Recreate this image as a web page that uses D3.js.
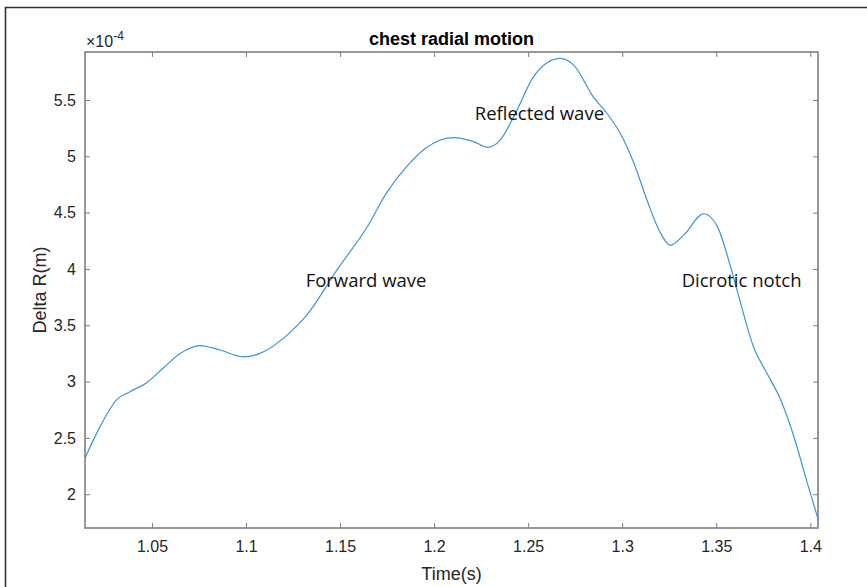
<!DOCTYPE html>
<html>
<head>
<meta charset="utf-8">
<script src="https://cdn.jsdelivr.net/npm/d3@7/dist/d3.min.js"></script>
<style>
  html, body { margin: 0; padding: 0; background: #fff; }
  svg { display: block; }
</style>
</head>
<body>
<svg id="chart" width="867" height="587"></svg>
<script>
// Chest radial motion over one heartbeat (Delta R in units of 1e-4 m)
const time = [1.0144, 1.0224, 1.0313, 1.0383, 1.0472, 1.056, 1.065, 1.0756, 1.0862, 1.0986,
  1.1075, 1.1217, 1.1323, 1.1483, 1.1643, 1.1749, 1.1855, 1.1962, 1.2104, 1.221,
  1.2287, 1.2352, 1.2423, 1.253, 1.26, 1.2671, 1.2742, 1.2849, 1.292, 1.2991,
  1.3062, 1.3132, 1.3203, 1.3256, 1.3327, 1.3434, 1.3505, 1.3576, 1.3611, 1.37,
  1.3771, 1.3842, 1.3913, 1.3984, 1.4043];
const deltaR = [2.32, 2.60, 2.84, 2.91, 2.99, 3.12, 3.25, 3.32, 3.28, 3.22,
  3.25, 3.41, 3.59, 3.99, 4.37, 4.68, 4.91, 5.08, 5.165, 5.13,
  5.08, 5.145, 5.35, 5.71, 5.83, 5.87, 5.81, 5.52, 5.38, 5.20,
  4.94, 4.61, 4.32, 4.21, 4.30, 4.49, 4.38, 4.02, 3.81, 3.30,
  3.07, 2.84, 2.51, 2.10, 1.77];

const xTicks = [1.05, 1.1, 1.15, 1.2, 1.25, 1.3, 1.35, 1.4];
const yTicks = [2, 2.5, 3, 3.5, 4, 4.5, 5, 5.5];
const xDomain = [1.0144, 1.4041];
const yDomain = [1.70, 5.926];

const annotations = [
  { text: "Forward wave", t: 1.1317, v: 3.84 },
  { text: "Reflected wave", t: 1.2216, v: 5.32 },
  { text: "Dicrotic notch", t: 1.3316, v: 3.84 }
];

const W = 867, H = 587;
const margin = { left: 85, top: 52, right: 49, bottom: 59 };
const iw = W - margin.left - margin.right;
const ih = H - margin.top - margin.bottom;

const svg = d3.select("#chart");

// outer figure frame
svg.append("path")
  .attr("d", `M5.5,${H} L5.5,7.5 L${W},7.5`)
  .attr("fill", "none").attr("stroke", "#333").attr("stroke-width", 1.6);

const g = svg.append("g").attr("transform", `translate(${margin.left},${margin.top})`);

const x = d3.scaleLinear().domain(xDomain).range([0, iw]);
const y = d3.scaleLinear().domain(yDomain).range([ih, 0]);

const axisColor = "#7f7f7f";
const textColor = "#262626";
const fmt = d => d3.format("~g")(d);

function styleAxis(sel, showLabels) {
  sel.select(".domain").remove();
  sel.selectAll(".tick line").attr("stroke", axisColor).attr("stroke-width", 1);
  sel.selectAll(".tick text")
    .attr("fill", textColor)
    .style("font-family", "Liberation Sans, Arial, sans-serif")
    .style("font-size", "16px");
  if (!showLabels) sel.selectAll(".tick text").remove();
}

// ticks pointing inward on all four sides
g.append("g").attr("transform", `translate(0,${ih})`)
  .call(d3.axisBottom(x).tickValues(xTicks).tickSize(-5).tickPadding(13).tickFormat(fmt))
  .call(s => styleAxis(s, true));
g.append("g")
  .call(d3.axisTop(x).tickValues(xTicks).tickSize(-5).tickFormat(fmt))
  .call(s => styleAxis(s, false));
g.append("g")
  .call(d3.axisLeft(y).tickValues(yTicks).tickSize(-5).tickPadding(9).tickFormat(fmt))
  .call(s => styleAxis(s, true));
g.append("g").attr("transform", `translate(${iw},0)`)
  .call(d3.axisRight(y).tickValues(yTicks).tickSize(-5).tickFormat(fmt))
  .call(s => styleAxis(s, false));

// axes box
g.append("rect")
  .attr("x", 0).attr("y", 0).attr("width", iw).attr("height", ih)
  .attr("fill", "none").attr("stroke", axisColor).attr("stroke-width", 1.6);

// signal
const pts = time.map((t, i) => [t, deltaR[i]]);
g.append("path")
  .datum(pts)
  .attr("fill", "none")
  .attr("stroke", "#3b95d3")
  .attr("stroke-width", 1.2)
  .attr("d", d3.line().x(d => x(d[0])).y(d => y(d[1])).curve(d3.curveMonotoneX));

// annotations
g.selectAll("text.note")
  .data(annotations)
  .join("text")
  .attr("class", "note")
  .attr("x", d => x(d.t))
  .attr("y", d => y(d.v))
  .attr("fill", "#111")
  .style("font-family", "Open Sans, Liberation Sans, sans-serif")
  .style("font-size", "18.5px")
  .text(d => d.text);

// exponent label
const ex = svg.append("text")
  .attr("x", margin.left + 1).attr("y", margin.top - 5)
  .attr("fill", textColor)
  .style("font-family", "Liberation Sans, Arial, sans-serif")
  .style("font-size", "16px");
ex.append("tspan").text("\u00d710");
ex.append("tspan").attr("dy", -7).style("font-size", "12px").text("-4");

// title
svg.append("text")
  .attr("x", margin.left + iw / 2).attr("y", margin.top - 7)
  .attr("text-anchor", "middle")
  .attr("fill", "#000")
  .style("font-family", "Liberation Sans, Arial, sans-serif")
  .style("font-size", "18px").style("font-weight", "bold")
  .text("chest radial motion");

// axis labels
svg.append("text")
  .attr("x", margin.left + iw / 2).attr("y", 580)
  .attr("text-anchor", "middle")
  .attr("fill", textColor)
  .style("font-family", "Liberation Sans, Arial, sans-serif")
  .style("font-size", "18px")
  .text("Time(s)");

svg.append("text")
  .attr("transform", `translate(46,${margin.top + ih / 2}) rotate(-90)`)
  .attr("text-anchor", "middle")
  .attr("fill", textColor)
  .style("font-family", "Liberation Sans, Arial, sans-serif")
  .style("font-size", "18px")
  .text("Delta R(m)");
</script>
</body>
</html>
